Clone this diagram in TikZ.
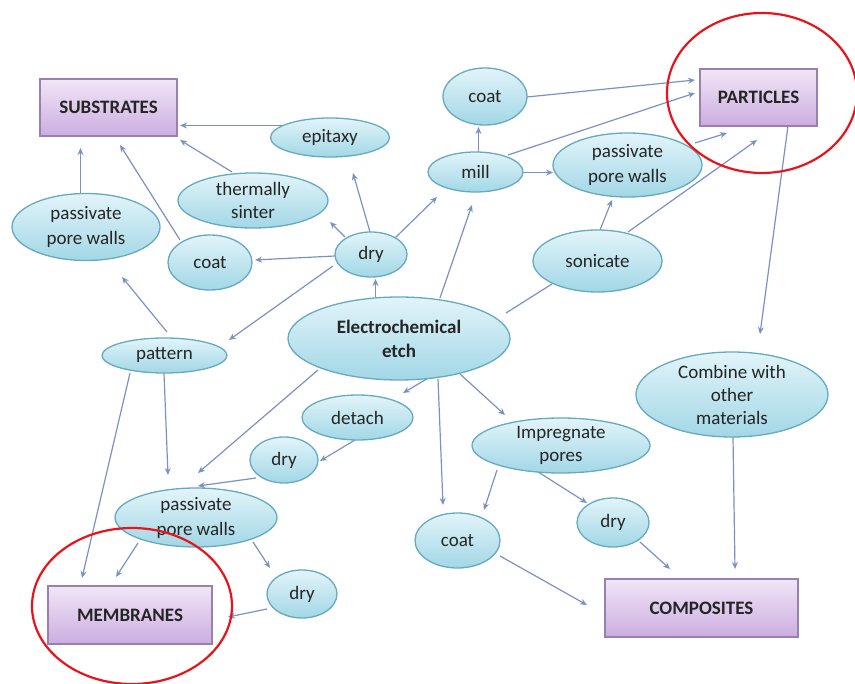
\documentclass[tikz,border=0pt]{standalone}
\usepackage{fontspec}
\setmainfont{Carlito}
\usetikzlibrary{shapes.geometric,arrows.meta,backgrounds}
\definecolor{edgec}{HTML}{7A92C2}
\definecolor{ellb}{HTML}{66AABD}
\definecolor{elltop}{HTML}{E2F4F9}
\definecolor{ellbot}{HTML}{A2D7E6}
\definecolor{boxb}{HTML}{9A80AE}
\definecolor{boxtop}{HTML}{F1E6F7}
\definecolor{boxbot}{HTML}{CBADE0}
\definecolor{txt}{HTML}{252525}
\definecolor{hl}{HTML}{E8141B}
\tikzset{
  proc/.style={ellipse, draw=ellb, line width=1.3pt, top color=elltop, bottom color=ellbot,
    inner sep=0pt, align=center, text=txt, font=\fontsize{19}{23}\selectfont},
  outcome/.style={rectangle, draw=boxb, line width=1.3pt, top color=boxtop, bottom color=boxbot,
    inner sep=0pt, text=txt, font=\bfseries\fontsize{19}{22}\selectfont},
  arr/.style={draw=edgec, line width=1.2pt, -{Stealth[length=7pt,width=6pt]}},
  plainline/.style={draw=edgec, line width=1.2pt},
  ring/.style={draw=hl, line width=2.2pt},
}
\begin{document}
\begin{tikzpicture}[x=1pt,y=-1pt]
\useasboundingbox (0,0) rectangle (855,684);
% outcome boxes
\node[outcome, minimum width=137pt, minimum height=57pt] (sub) at (108.5,107.5) {SUBSTRATES};
\node[outcome, minimum width=117pt, minimum height=57pt] (par) at (758.5,97.5) {PARTICLES};
\node[outcome, minimum width=164pt, minimum height=58pt] (mem) at (130,615) {MEMBRANES};
\node[outcome, minimum width=193pt, minimum height=58pt] (com) at (701.5,608) {COMPOSITES};
% process ellipses
\node[proc, minimum width=119pt, minimum height=39pt] (epi) at (330,137.5) {epitaxy};
\node[proc, minimum width=150pt, minimum height=55pt] (therm) at (253,200.5) {thermally\\sinter};
\node[proc, minimum width=148pt, minimum height=67pt, font=\fontsize{19}{25}\selectfont] (passL) at (86,227) {passivate\\pore walls};
\node[proc, minimum width=84pt, minimum height=55pt] (coatL) at (210,262.5) {coat};
\node[proc, minimum width=72pt, minimum height=45pt] (dryT) at (371,254.5) {dry};
\node[proc, minimum width=84pt, minimum height=57pt] (coatT) at (485,96.5) {coat};
\node[proc, minimum width=95pt, minimum height=40pt] (mill) at (475.5,172) {mill};
\node[proc, minimum width=149pt, minimum height=64pt, font=\fontsize{19}{25}\selectfont] (passR) at (627.5,165) {passivate\\pore walls};
\node[proc, minimum width=129pt, minimum height=62pt] (son) at (597.5,261) {sonicate};
\node[proc, minimum width=222pt, minimum height=83pt, font=\bfseries\fontsize{19}{24}\selectfont] (ec) at (399,338.5) {Electrochemical\\etch};
\node[proc, minimum width=125pt, minimum height=35pt] (pat) at (164.5,355.5) {pattern};
\node[proc, minimum width=111pt, minimum height=45pt] (det) at (357.5,417.5) {detach};
\node[proc, minimum width=68pt, minimum height=46pt] (dryM) at (284,460) {dry};
\node[proc, minimum width=162pt, minimum height=59pt, font=\fontsize{19}{25}\selectfont] (passB) at (196,517.5) {passivate\\pore walls};
\node[proc, minimum width=70pt, minimum height=48pt] (dryB) at (302,594) {dry};
\node[proc, minimum width=192pt, minimum height=85pt] (comb) at (732,394.5) {Combine with\\other\\materials};
\node[proc, minimum width=178pt, minimum height=55pt] (imp) at (561,445.5) {Impregnate\\pores};
\node[proc, minimum width=85pt, minimum height=55pt] (coatB) at (457.5,540.5) {coat};
\node[proc, minimum width=72pt, minimum height=49pt] (dryR) at (613,522.5) {dry};
% connectors
\begin{scope}[on background layer]
\draw[arr] ([xshift=-45pt,yshift=12pt]epi.center) -- ([xshift=71.5pt,yshift=-18pt]sub.center);
\draw[arr] ([xshift=-21pt,yshift=28.5pt]therm.center) -- ([xshift=71.5pt,yshift=-32.5pt]sub.center);
\draw[arr] ([xshift=-30pt,yshift=22.5pt]coatL.center) -- ([xshift=11.5pt,yshift=-37.5pt]sub.center);
\draw[arr] ([xshift=-5.5pt,yshift=34pt]passL.center) -- ([xshift=-28pt,yshift=-40.5pt]sub.center);
\draw[arr] ([xshift=-36pt,yshift=-1.5pt]dryT.center) -- ([xshift=45pt,yshift=2.5pt]coatL.center);
\draw[arr] ([xshift=-26pt,yshift=17.5pt]dryT.center) -- ([xshift=77pt,yshift=-21.5pt]therm.center);
\draw[arr] ([xshift=-1pt,yshift=22.5pt]dryT.center) -- ([xshift=23pt,yshift=-35.5pt]epi.center);
\draw[arr] ([xshift=24pt,yshift=16.5pt]dryT.center) -- ([xshift=-38.5pt,yshift=-25pt]mill.center);
\draw[arr] ([xshift=-23.5pt,yshift=41.5pt]ec.center) -- ([xshift=4.5pt,yshift=-24.5pt]dryT.center);
\draw[arr] ([xshift=-38pt,yshift=-11.5pt]dryT.center) -- ([xshift=64.5pt,yshift=15.5pt]pat.center);
\draw[arr] ([xshift=2.5pt,yshift=23.5pt]pat.center) -- ([xshift=36pt,yshift=-50pt]passL.center);
\draw[arr] ([xshift=-0.5pt,yshift=-17.5pt]pat.center) -- ([xshift=-28pt,yshift=42.5pt]passB.center);
\draw[arr] ([xshift=-34.5pt,yshift=-17.5pt]pat.center) -- ([xshift=-48pt,yshift=37pt]mem.center);
\draw[arr] ([xshift=-81pt,yshift=-31.5pt]ec.center) -- ([xshift=2pt,yshift=44.5pt]passB.center);
\draw[arr] ([xshift=31pt,yshift=-38.5pt]ec.center) -- ([xshift=45.5pt,yshift=24.5pt]det.center);
\draw[arr] ([xshift=-2.5pt,yshift=-22.5pt]det.center) -- ([xshift=36pt,yshift=-1pt]dryM.center);
\draw[arr] ([xshift=-28pt,yshift=-18pt]dryM.center) -- ([xshift=2pt,yshift=31.5pt]passB.center);
\draw[arr] ([xshift=-58pt,yshift=-25.5pt]passB.center) -- ([xshift=-14pt,yshift=38pt]mem.center);
\draw[arr] ([xshift=57pt,yshift=-24.5pt]passB.center) -- ([xshift=-32pt,yshift=26pt]dryB.center);
\draw[arr] ([xshift=-35pt,yshift=-15pt]dryB.center) -- ([xshift=98pt,yshift=-2pt]mem.center);
\draw[arr] ([xshift=39pt,yshift=-40.5pt]ec.center) -- ([xshift=-14.5pt,yshift=35.5pt]coatB.center);
\draw[arr] ([xshift=61pt,yshift=-35.5pt]ec.center) -- ([xshift=-56pt,yshift=30.5pt]imp.center);
\draw[arr] ([xshift=-64pt,yshift=-24.5pt]imp.center) -- ([xshift=26.5pt,yshift=30.5pt]coatB.center);
\draw[arr] ([xshift=-26pt,yshift=-24.5pt]imp.center) -- ([xshift=-26pt,yshift=19.5pt]dryR.center);
\draw[arr] ([xshift=27pt,yshift=-19.5pt]dryR.center) -- ([xshift=-31.5pt,yshift=39pt]com.center);
\draw[arr] ([xshift=42.5pt,yshift=-15.5pt]coatB.center) -- ([xshift=-114.5pt,yshift=3pt]com.center);
\draw[arr] ([xshift=1pt,yshift=-42.5pt]comb.center) -- ([xshift=33.5pt,yshift=39pt]com.center);
\draw[arr] ([xshift=29.5pt,yshift=-28.5pt]par.center) -- ([xshift=28pt,yshift=60.5pt]comb.center);
\draw[arr] ([xshift=41pt,yshift=40.5pt]ec.center) -- ([xshift=-3.5pt,yshift=-33pt]mill.center);
\draw[plainline] ([xshift=107pt,yshift=25.5pt]ec.center) -- ([xshift=-45.5pt,yshift=-23pt]son.center);
\draw[arr] ([xshift=3pt,yshift=20pt]mill.center) -- ([xshift=-6.5pt,yshift=-30.5pt]coatT.center);
\draw[arr] ([xshift=47.5pt,yshift=-0.5pt]mill.center) -- ([xshift=-74.5pt,yshift=-7.5pt]passR.center);
\draw[arr] ([xshift=32.5pt,yshift=17pt]mill.center) -- ([xshift=-63.5pt,yshift=4.5pt]par.center);
\draw[arr] ([xshift=42pt,yshift=-0.5pt]coatT.center) -- ([xshift=-63.5pt,yshift=17.5pt]par.center);
\draw[arr] ([xshift=67.5pt,yshift=22pt]passR.center) -- ([xshift=-31.5pt,yshift=-35.5pt]par.center);
\draw[arr] ([xshift=2.5pt,yshift=31pt]son.center) -- ([xshift=-15.5pt,yshift=-35pt]passR.center);
\draw[arr] ([xshift=30.5pt,yshift=29pt]son.center) -- ([xshift=-1.5pt,yshift=-42.5pt]par.center);
\end{scope}
% red highlight rings
\draw[ring] (762,93) ellipse [x radius=95pt, y radius=80pt];
\draw[ring] (132,606) ellipse [x radius=100pt, y radius=78pt];
\end{tikzpicture}
\end{document}
